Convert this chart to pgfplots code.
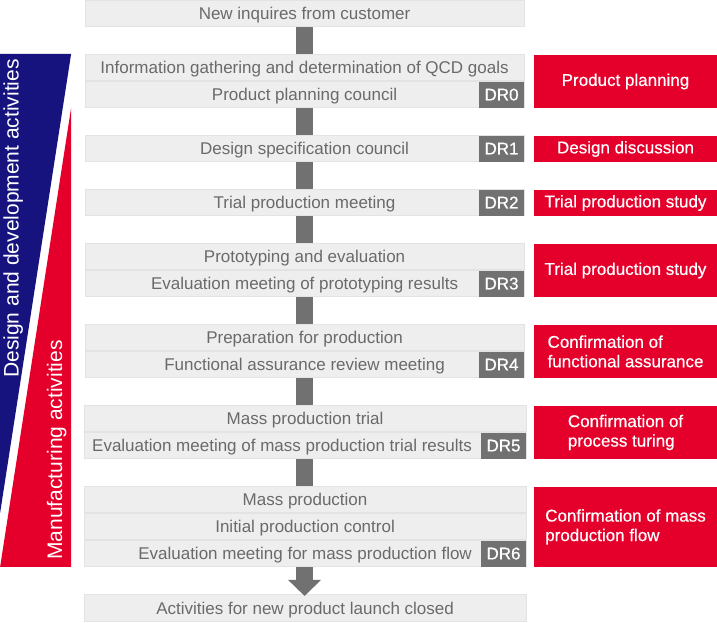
\documentclass[border=0pt]{standalone}
\usepackage{pgfplots}
\pgfplotsset{compat=1.18}
\usepackage{fontspec}
\setmainfont{Liberation Sans}
\newfontfamily\medfont{Liberation Sans}[FakeBold=0.5]

\definecolor{boxgray}{HTML}{EEEEEE}
\definecolor{boxline}{HTML}{E3E3E3}
\definecolor{drgray}{HTML}{717171}
\definecolor{txtgray}{HTML}{6A6A6A}
\definecolor{jred}{HTML}{E4002B}
\definecolor{navy}{HTML}{16137F}

% box corners in picture pixels: x1 y1 x2 y2
\newcommand{\gbox}[4]{\addplot[fill=boxgray,draw=boxline,line width=1bp] coordinates {(#1,#2) (#3,#2) (#3,#4) (#1,#4)} -- cycle;}
\newcommand{\rbox}[4]{\addplot[fill=jred,draw=none] coordinates {(#1,#2) (#3,#2) (#3,#4) (#1,#4)} -- cycle;}
\newcommand{\dbox}[4]{\addplot[fill=drgray,draw=none] coordinates {(#1,#2) (#3,#2) (#3,#4) (#1,#4)} -- cycle;}
\newcommand{\bigfont}{\fontsize{17bp}{19.5bp}\selectfont}
\newcommand{\sidefont}{\fontsize{21bp}{24bp}\selectfont}

\begin{document}
\begin{tikzpicture}[font=\bigfont]
\begin{axis}[
  scale only axis, width=717bp, height=622bp,
  xmin=0, xmax=717, ymin=0, ymax=622, y dir=reverse,
  hide axis, clip=false,
]
\path (axis cs:0,0) rectangle (axis cs:717,622);

% side banners
\addplot[fill=navy,draw=none] coordinates {(0,54) (71,54) (0,513)} -- cycle;
\addplot[fill=jred,draw=none] coordinates {(71,108) (71,567) (0,567)} -- cycle;

% arrow shaft
\addplot[fill=drgray,draw=none] coordinates {(296,27) (313,27) (313,580) (296,580)} -- cycle;

% gray step boxes
\gbox{85}{1}{524}{27}
\gbox{85}{55}{524}{81}
\gbox{85}{82}{524}{108}
\gbox{85}{136}{524}{162}
\gbox{85}{190}{524}{216}
\gbox{85}{244}{524}{270}
\gbox{85}{271}{524}{297}
\gbox{85}{325}{524}{351}
\gbox{85}{352}{524}{378}
\gbox{84}{406}{526}{432}
\gbox{84}{433}{526}{459}
\gbox{84}{487}{526}{513}
\gbox{84}{514}{526}{540}
\gbox{84}{541}{526}{567}
\gbox{84}{595}{526}{622}

% arrow head
\addplot[fill=drgray,draw=none] coordinates {(288,580) (321,580) (304.5,596)} -- cycle;

% DR boxes
\dbox{479}{82}{524}{108}
\dbox{479}{136}{524}{162}
\dbox{479}{190}{524}{216}
\dbox{479}{271}{524}{297}
\dbox{479}{352}{524}{378}
\dbox{481}{433}{526}{459}
\dbox{481}{541}{526}{567}

% red boxes
\rbox{534}{55}{717}{108}
\rbox{534}{136}{717}{162}
\rbox{534}{190}{717}{216}
\rbox{534}{244}{717}{297}
\rbox{534}{325}{717}{378}
\rbox{534}{406}{717}{459}
\rbox{534}{487}{717}{567}

% step texts
\begin{scope}[every node/.append style={font=\bigfont, text=txtgray, anchor=base}]
\node at (axis cs:304.5,19.5) {New inquires from customer};
\node at (axis cs:304.5,73.5) {Information gathering and determination of QCD goals};
\node at (axis cs:304.5,100.5) {Product planning council};
\node at (axis cs:304.5,154.5) {Design specification council};
\node at (axis cs:304.5,208.5) {Trial production meeting};
\node at (axis cs:304.5,262.5) {Prototyping and evaluation};
\node at (axis cs:304.5,289.5) {Evaluation meeting of prototyping results};
\node at (axis cs:304.5,343.5) {Preparation for production};
\node at (axis cs:304.5,370.5) {Functional assurance review meeting};
\node at (axis cs:305,424.5) {Mass production trial};
\node at (axis cs:282,451.5) {Evaluation meeting of mass production trial results};
\node at (axis cs:305,505.5) {Mass production};
\node at (axis cs:305,532.5) {Initial production control};
\node at (axis cs:305,559.5) {Evaluation meeting for mass production flow};
\node at (axis cs:305,614.5) {Activities for new product launch closed};
\end{scope}

% DR labels
\begin{scope}[every node/.append style={font=\bigfont\medfont, text=white, anchor=base}]
\node at (axis cs:501.5,100.5) {DR0};
\node at (axis cs:501.5,154.5) {DR1};
\node at (axis cs:501.5,208.5) {DR2};
\node at (axis cs:501.5,289.5) {DR3};
\node at (axis cs:501.5,370.5) {DR4};
\node at (axis cs:503.5,451.5) {DR5};
\node at (axis cs:503.5,559.5) {DR6};
\end{scope}

% red box texts
\begin{scope}[every node/.append style={font=\bigfont\medfont, text=white, align=left}]
\node at (axis cs:625.5,81.5) {Product planning};
\node at (axis cs:625.5,149) {Design discussion};
\node at (axis cs:625.5,203) {Trial production study};
\node at (axis cs:625.5,270.5) {Trial production study};
\node at (axis cs:625.5,351.5) {Confirmation of\\functional assurance};
\node at (axis cs:625.5,432.5) {Confirmation of\\process turing};
\node at (axis cs:625.5,527) {Confirmation of mass\\production flow};
\end{scope}

% side banner texts
\node[rotate=90, text=white, font=\sidefont] at (axis cs:13,218.5) {Design and development activities};
\node[rotate=90, text=white, font=\sidefont] at (axis cs:56.5,450) {Manufacturing activities};
\end{axis}
\end{tikzpicture}
\end{document}
